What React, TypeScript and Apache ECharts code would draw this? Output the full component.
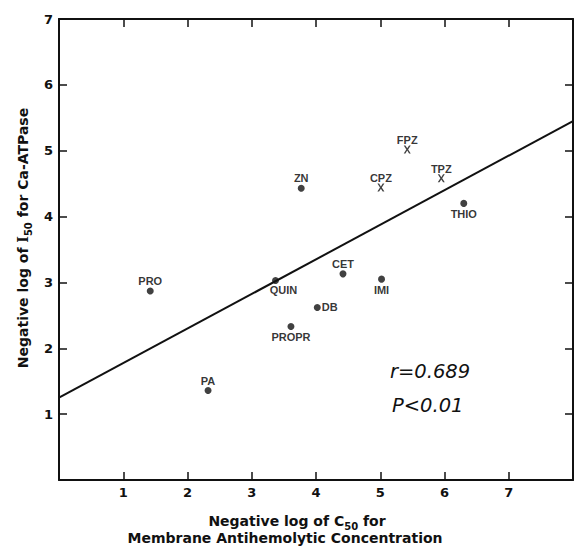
import React, { useEffect, useRef } from 'react';
import * as echarts from 'echarts';

// ---- data ----
const dotNames = ['PRO', 'PA', 'QUIN', 'ZN', 'PROPR', 'DB', 'CET', 'IMI', 'THIO'];
const dotX = [1.42, 2.32, 3.37, 3.77, 3.61, 4.02, 4.42, 5.02, 6.3];
const dotY = [2.87, 1.36, 3.03, 4.43, 2.33, 2.62, 3.13, 3.05, 4.2];

const crossNames = ['CPZ', 'FPZ', 'TPZ'];
const crossX = [5.01, 5.42, 5.95];
const crossY = [4.44, 5.02, 4.58];

const fitX = [0, 8];
const fitY = [1.25, 5.45];

const xTickLabels = ['1', '2', '3', '4', '5', '6', '7'];
const yTickLabels = ['1', '2', '3', '4', '5', '6', '7'];

const statR = 'r=0.689';
const statP = 'P<0.01';

// ---- label placement (layout, not data) ----
const labelPlacement: Record<string, { position: string; offset?: number[]; distance?: number }> = {
  PRO: { position: 'top' },
  PA: { position: 'top', distance: 0 },
  QUIN: { position: 'bottom', offset: [8, 0] },
  ZN: { position: 'top' },
  PROPR: { position: 'bottom' },
  DB: { position: 'right', distance: 1 },
  CET: { position: 'top' },
  IMI: { position: 'bottom', offset: [0, 1] },
  THIO: { position: 'bottom', offset: [0, 1] },
  CPZ: { position: 'top', distance: 0 },
  FPZ: { position: 'top', distance: 0 },
  TPZ: { position: 'top', distance: 0 },
};

const INK = '#111';
const TICK_FONT = 'DejaVu Sans';
const LABEL_FONT = 'Liberation Sans';

function makeItems(names: string[], xs: number[], ys: number[]) {
  return names.map((n, i) => {
    const p = labelPlacement[n] || { position: 'top' };
    return {
      name: n,
      value: [xs[i], ys[i]],
      label: {
        position: p.position,
        offset: p.offset || [0, 0],
        distance: p.distance !== undefined ? p.distance : 1,
      },
    };
  });
}

const crossPath =
  'path://M0,0 L2.4,0 L5,3.5 L7.6,0 L10,0 L6.3,5 L10,10 L7.6,10 L5,6.5 L2.4,10 L0,10 L3.7,5 Z';

const mkLine = () => ({ show: true, onZero: false, lineStyle: { color: INK, width: 2 } });
const mkTick = () => ({ show: true, inside: true, length: 8, lineStyle: { color: INK, width: 1.5 } });

export default function App() {
  const ref = useRef<HTMLDivElement>(null);

  useEffect(() => {
    if (!ref.current) return;
    const chart = echarts.init(ref.current, null, { renderer: 'svg' });

    const tickLabel = {
      color: INK,
      fontFamily: TICK_FONT,
      fontWeight: 'bold' as const,
      fontSize: 13,
    };

    const pointLabel = {
      show: true,
      formatter: '{b}',
      color: '#000',
      fontFamily: LABEL_FONT,
      fontWeight: 'bold' as const,
      fontSize: 11,
    };

    const mainRich = {
      a: { fontFamily: TICK_FONT, fontWeight: 'bold', fontSize: 14, lineHeight: 20, verticalAlign: 'middle', fill: INK, color: INK },
      i: { fontFamily: 'DejaVu Serif', fontWeight: 'bold', fontSize: 14, lineHeight: 20, verticalAlign: 'middle', fill: INK, color: INK },
      s: { fontFamily: TICK_FONT, fontWeight: 'bold', fontSize: 10, lineHeight: 13, verticalAlign: 'bottom', fill: INK, color: INK },
    };

    chart.setOption({
      animation: false,
      backgroundColor: '#fff',
      grid: { left: 59, right: 1, top: 19, bottom: 67, containLabel: false },
      xAxis: [
        {
          type: 'value',
          position: 'bottom',
          min: 0,
          max: 8,
          interval: 1,
          axisLine: mkLine(),
          axisTick: mkTick(),
          splitLine: { show: false },
          axisLabel: {
            ...tickLabel,
            margin: 6,
            formatter: (v: number) => (v >= 1 && v <= 7 ? xTickLabels[v - 1] : ''),
          },
        },
        {
          type: 'value',
          position: 'top',
          min: 0,
          max: 8,
          interval: 1,
          axisLine: mkLine(),
          axisTick: mkTick(),
          splitLine: { show: false },
          axisLabel: { show: false },
        },
      ],
      yAxis: [
        {
          type: 'value',
          position: 'left',
          min: 0,
          max: 7,
          interval: 1,
          axisLine: mkLine(),
          axisTick: mkTick(),
          splitLine: { show: false },
          axisLabel: {
            ...tickLabel,
            margin: 6,
            formatter: (v: number) => (v >= 1 && v <= 7 ? yTickLabels[v - 1] : ''),
          },
        },
        {
          type: 'value',
          position: 'right',
          min: 0,
          max: 7,
          interval: 1,
          axisLine: mkLine(),
          axisTick: mkTick(),
          splitLine: { show: false },
          axisLabel: { show: false },
        },
      ],
      series: [
        {
          type: 'line',
          data: fitX.map((x, i) => [x, fitY[i]]),
          showSymbol: false,
          symbol: 'none',
          lineStyle: { color: INK, width: 2 },
          z: 2,
          silent: true,
        },
        {
          type: 'scatter',
          data: makeItems(dotNames, dotX, dotY),
          symbol: 'circle',
          symbolSize: 7,
          itemStyle: { color: INK },
          label: pointLabel,
          z: 3,
        },
        {
          type: 'scatter',
          data: makeItems(crossNames, crossX, crossY),
          symbol: crossPath,
          symbolSize: [7, 8],
          itemStyle: { color: INK },
          label: pointLabel,
          z: 3,
        },
      ],
      graphic: [
        {
          type: 'text',
          x: 23,
          y: 238,
          rotation: Math.PI / 2,
          style: {
            text: '{a|Negative log of }{i|I}{s|50}{a| for Ca-ATPase}',
            rich: mainRich,
            align: 'center',
            verticalAlign: 'middle',
            fill: INK,
          },
        },
        {
          type: 'text',
          x: 297,
          y: 521,
          style: {
            text: '{a|Negative log of C}{s|50}{a| for}',
            rich: mainRich,
            align: 'center',
            verticalAlign: 'middle',
            fill: INK,
          },
        },
        {
          type: 'text',
          x: 285,
          y: 538,
          style: {
            text: 'Membrane Antihemolytic Concentration',
            fontFamily: TICK_FONT,
            fontWeight: 'bold',
            fontSize: 14,
            align: 'center',
            verticalAlign: 'middle',
            fill: INK,
          },
        },
        {
          type: 'text',
          x: 390,
          y: 371,
          style: {
            text: statR,
            fontFamily: 'DejaVu Sans',
            fontStyle: 'italic',
            fontSize: 19.5,
            align: 'left',
            verticalAlign: 'middle',
            fill: INK,
          },
        },
        {
          type: 'text',
          x: 392,
          y: 405,
          style: {
            text: statP,
            fontFamily: 'DejaVu Sans',
            fontStyle: 'italic',
            fontSize: 19.5,
            align: 'left',
            verticalAlign: 'middle',
            fill: INK,
          },
        },
      ],
    });

    return () => chart.dispose();
  }, []);

  return (
    <div
      ref={ref}
      style={{ position: 'absolute', left: 0, top: 0, width: 576, height: 547, background: '#fff' }}
    />
  );
}
